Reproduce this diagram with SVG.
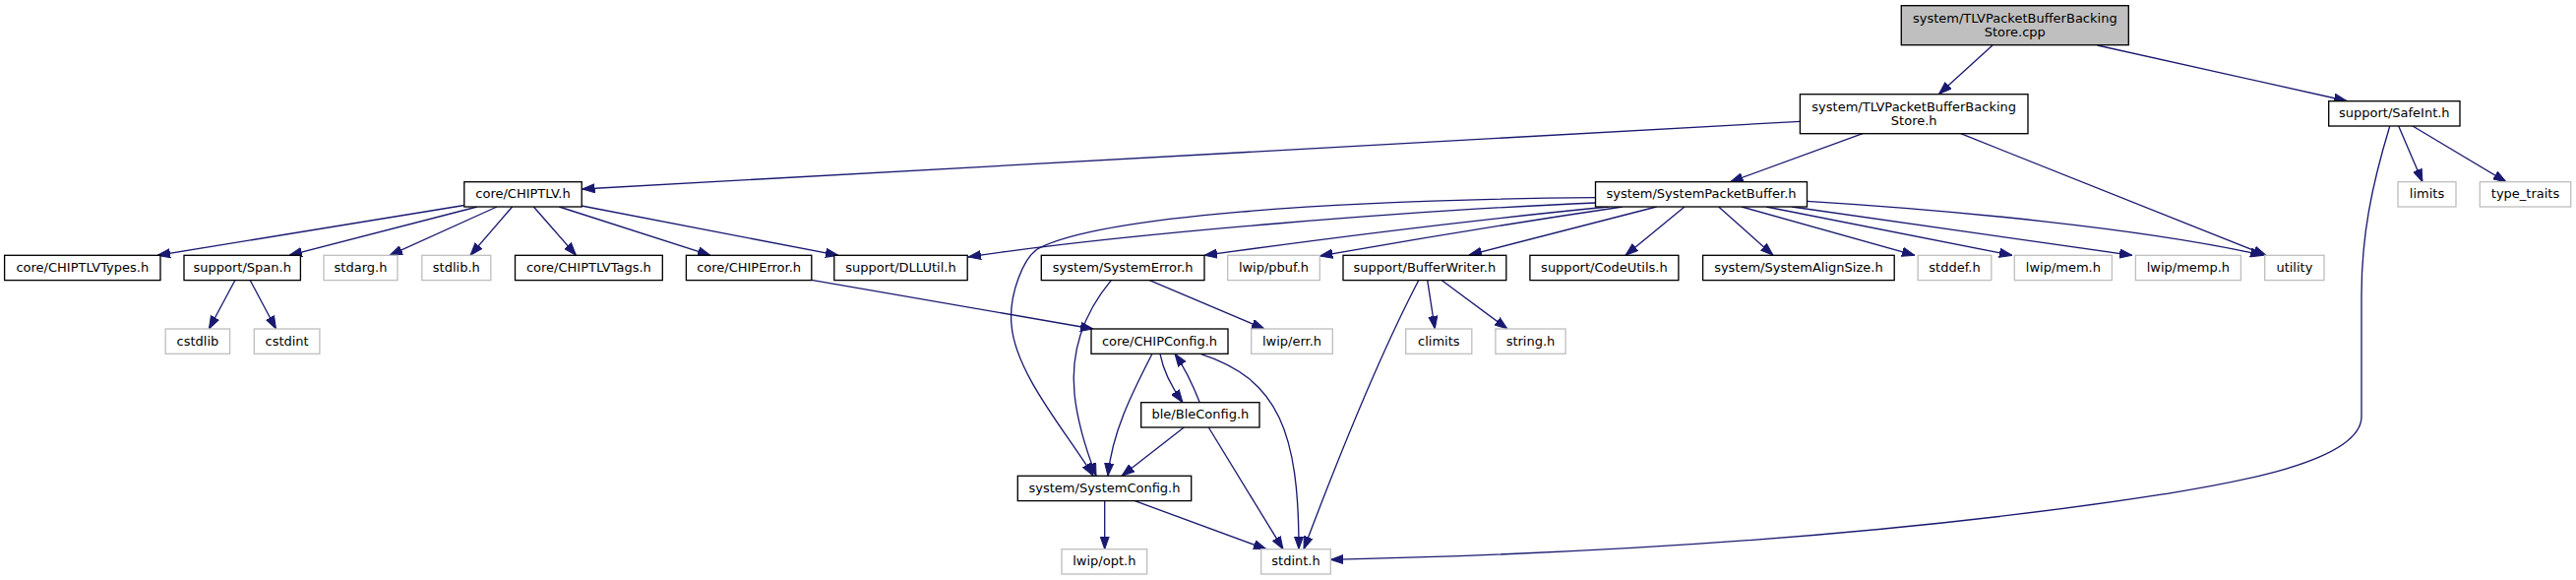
<svg xmlns="http://www.w3.org/2000/svg" width="2618" height="589" viewBox="0 0 2618 589">
<style>
.n rect{fill:#ffffff;stroke:#000000;stroke-width:1.33}
.n.g rect{stroke:#bfbfbf}
.n.root rect{fill:#bfbfbf}
.n text{font-family:"DejaVu Sans",sans-serif;font-size:13px;fill:#000000;text-anchor:middle}
#edges path{fill:none;stroke:#191970;stroke-width:1.33;marker-end:url(#ah)}
</style>
<defs>
<marker id="ah" viewBox="0 0 13 10" refX="13" refY="5" markerWidth="13" markerHeight="10" markerUnits="userSpaceOnUse" orient="auto">
<path d="M0,0.4 L13,5 L0,9.6 z" fill="#191970" stroke="#191970" stroke-width="1"/>
</marker>
</defs>
<rect width="2618" height="589" fill="#ffffff"/>
<g id="edges">
<path d="M2025,46 L1970.5,95.5"/>
<path d="M2131.5,46 L2385,102.5"/>
<path d="M1829.4,123.3 L591.5,192"/>
<path d="M1893,135.7 L1758.5,184.7"/>
<path d="M1992.7,135.7 L2303,259.3"/>
<path d="M2437.7,128 L2462,184.7"/>
<path d="M2452,128 L2547,184.7"/>
<path d="M2428.7,128.3 C2410,190 2400,240 2400,300 L2400,423 C2400,470 2260,492 2200,501.7 C1900,548 1600,563 1352.3,568.3"/>
<path d="M471.8,208.5 L160,259.3"/>
<path d="M485,210 L294,259.3"/>
<path d="M505,210 L396,259.3"/>
<path d="M520.6,210 L478,259.3"/>
<path d="M542.4,210 L585.5,259.3"/>
<path d="M568.3,210 L722,259.3"/>
<path d="M591,209 L852,259.3"/>
<path d="M238.8,284.7 L212.4,334"/>
<path d="M254.3,284.7 L280.5,334"/>
<path d="M824.8,284.3 L1111,334"/>
<path d="M1621.5,200.7 C1350,203 1120,220 1056.7,251.7 C1040,260 1025,300 1028,330 C1032,380 1085,440 1111,483.3"/>
<path d="M1621.5,206 C1450,213 1150,236 984,261"/>
<path d="M1634.7,210 Q1450,228 1224,259.3"/>
<path d="M1649,210 Q1500,232 1341.3,260"/>
<path d="M1683.5,210 L1493,259"/>
<path d="M1712,210 L1652,259.3"/>
<path d="M1746.7,210 L1802,259.3"/>
<path d="M1770,210 L1946,259.3"/>
<path d="M1795,210 L2045,259.3"/>
<path d="M1821,210 L2167,259.3"/>
<path d="M1836.5,204.3 C1980,213 2180,232 2300,259.3"/>
<path d="M1129.3,284.7 C1100,320 1088,360 1092,400 C1095,430 1105,460 1114,483.3"/>
<path d="M1168.3,284.7 L1285,334"/>
<path d="M1450.7,284.7 L1458.3,334"/>
<path d="M1465.4,284.7 L1532,334"/>
<path d="M1441.7,284.7 Q1392,380 1325,557.7"/>
<path d="M1171,359.3 C1150,400 1130,440 1126,483.3"/>
<path d="M1179,359.3 C1182,375 1190,392 1202,408.7"/>
<path d="M1219.3,408.7 C1212,390 1203,372 1194,359.3"/>
<path d="M1220,359.3 C1300,385 1320,440 1320,557.7"/>
<path d="M1203.3,434 L1140,483.3"/>
<path d="M1228.3,434 L1304,557.7"/>
<path d="M1122.7,508.7 L1122.7,557.7"/>
<path d="M1153.3,508.7 L1287,557.7"/>
</g>
<g id="n_root" class="n root"><rect x="1932.3" y="5.7" width="231" height="40"/><text x="2047.8" y="22.7">system/TLVPacketBufferBacking</text><text x="2047.8" y="37.2">Store.cpp</text></g>
<g id="n_store_h" class="n"><rect x="1829.4" y="95.7" width="231.6" height="40"/><text x="1945.2" y="112.5">system/TLVPacketBufferBacking</text><text x="1945.2" y="127">Store.h</text></g>
<g id="n_safeint" class="n"><rect x="2366.7" y="102.7" width="133.3" height="25.3"/><text x="2433.3" y="119.3">support/SafeInt.h</text></g>
<g id="n_chiptlv" class="n"><rect x="471.8" y="184.7" width="119.4" height="25.3"/><text x="531.5" y="201.3">core/CHIPTLV.h</text></g>
<g id="n_spb" class="n"><rect x="1621.5" y="184.7" width="215" height="25.3"/><text x="1729" y="201.3">system/SystemPacketBuffer.h</text></g>
<g id="n_limits" class="n g"><rect x="2437" y="184.7" width="59" height="25.3"/><text x="2466.5" y="201.3">limits</text></g>
<g id="n_type_traits" class="n g"><rect x="2520.3" y="184.7" width="92.4" height="25.3"/><text x="2566.5" y="201.3">type_traits</text></g>
<g id="n_tlvtypes" class="n"><rect x="4.6" y="259.3" width="158.4" height="25.3"/><text x="83.8" y="276">core/CHIPTLVTypes.h</text></g>
<g id="n_span" class="n"><rect x="187" y="259.3" width="118.4" height="25.3"/><text x="246.2" y="276">support/Span.h</text></g>
<g id="n_stdarg" class="n g"><rect x="329" y="259.3" width="75" height="25.3"/><text x="366.5" y="276">stdarg.h</text></g>
<g id="n_stdlib" class="n g"><rect x="428.8" y="259.3" width="70" height="25.3"/><text x="463.8" y="276">stdlib.h</text></g>
<g id="n_tlvtags" class="n"><rect x="523.5" y="259.3" width="149.8" height="25.3"/><text x="598.4" y="276">core/CHIPTLVTags.h</text></g>
<g id="n_chiperror" class="n"><rect x="697.4" y="259.3" width="127.4" height="25.3"/><text x="761.1" y="276">core/CHIPError.h</text></g>
<g id="n_dllutil" class="n"><rect x="847.8" y="259.3" width="135.4" height="25.3"/><text x="915.5" y="276">support/DLLUtil.h</text></g>
<g id="n_syserror" class="n"><rect x="1058.3" y="259.3" width="165.7" height="25.3"/><text x="1141.2" y="276">system/SystemError.h</text></g>
<g id="n_pbuf" class="n g"><rect x="1247.7" y="259.3" width="93.6" height="25.3"/><text x="1294.5" y="276">lwip/pbuf.h</text></g>
<g id="n_bufwriter" class="n"><rect x="1365" y="259.3" width="165.8" height="25.3"/><text x="1447.9" y="276">support/BufferWriter.h</text></g>
<g id="n_codeutils" class="n"><rect x="1554.9" y="259.3" width="151" height="25.3"/><text x="1630.4" y="276">support/CodeUtils.h</text></g>
<g id="n_alignsize" class="n"><rect x="1730.6" y="259.3" width="194.6" height="25.3"/><text x="1827.9" y="276">system/SystemAlignSize.h</text></g>
<g id="n_stddef" class="n g"><rect x="1949.2" y="259.3" width="74.6" height="25.3"/><text x="1986.5" y="276">stddef.h</text></g>
<g id="n_mem" class="n g"><rect x="2047.3" y="259.3" width="99.1" height="25.3"/><text x="2096.9" y="276">lwip/mem.h</text></g>
<g id="n_memp" class="n g"><rect x="2170.4" y="259.3" width="107" height="25.3"/><text x="2223.9" y="276">lwip/memp.h</text></g>
<g id="n_utility" class="n g"><rect x="2301.7" y="259.3" width="60.3" height="25.3"/><text x="2331.9" y="276">utility</text></g>
<g id="n_cstdlib" class="n g"><rect x="168.2" y="334" width="65.4" height="25.3"/><text x="200.9" y="350.7">cstdlib</text></g>
<g id="n_cstdint" class="n g"><rect x="258.3" y="334" width="66.6" height="25.3"/><text x="291.6" y="350.7">cstdint</text></g>
<g id="n_chipconfig" class="n"><rect x="1109" y="334" width="139" height="25.3"/><text x="1178.5" y="350.7">core/CHIPConfig.h</text></g>
<g id="n_err" class="n g"><rect x="1271.7" y="334" width="82.6" height="25.3"/><text x="1313" y="350.7">lwip/err.h</text></g>
<g id="n_climits" class="n g"><rect x="1428.7" y="334" width="67.1" height="25.3"/><text x="1462.3" y="350.7">climits</text></g>
<g id="n_string" class="n g"><rect x="1519.9" y="334" width="71.2" height="25.3"/><text x="1555.5" y="350.7">string.h</text></g>
<g id="n_bleconfig" class="n"><rect x="1159.7" y="408.7" width="120.3" height="25.3"/><text x="1219.9" y="425.3">ble/BleConfig.h</text></g>
<g id="n_sysconfig" class="n"><rect x="1034.3" y="483.3" width="176.4" height="25.3"/><text x="1122.5" y="500">system/SystemConfig.h</text></g>
<g id="n_opt" class="n g"><rect x="1079" y="557.7" width="86.7" height="25.3"/><text x="1122.3" y="574.3">lwip/opt.h</text></g>
<g id="n_stdint" class="n g"><rect x="1281.7" y="557.7" width="70.6" height="25.3"/><text x="1317" y="574.3">stdint.h</text></g>
</svg>
